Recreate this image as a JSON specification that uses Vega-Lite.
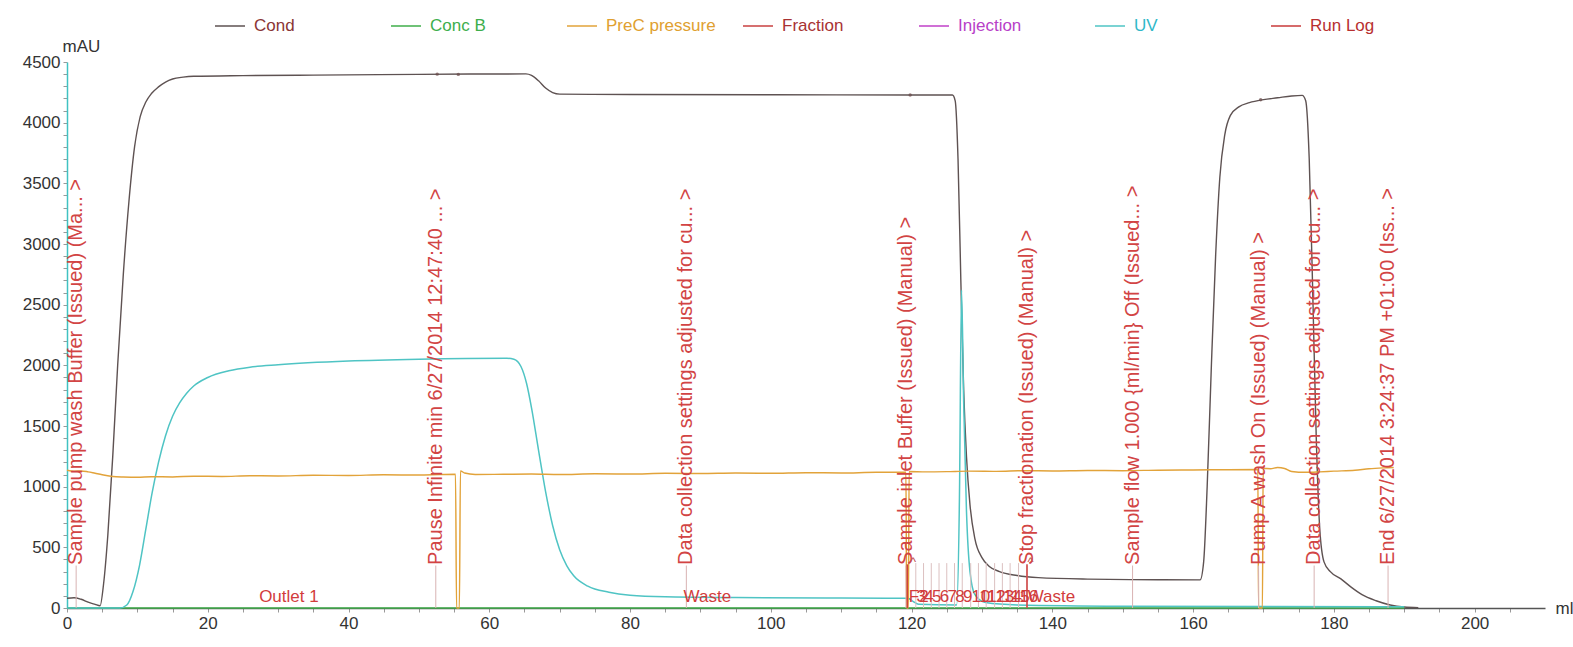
{
  "$schema": "https://vega.github.io/schema/vega-lite/v6.json",
  "width": 1478,
  "height": 546,
  "autosize": "none",
  "padding": {"left": 67, "top": 62, "right": 28, "bottom": 39},
  "background": "white",
  "config": {
    "view": {"stroke": null},
    "font": "Liberation Sans",
    "text": {"font": "Liberation Sans"}
  },
  "resolve": {"axis": {"x": "independent", "y": "independent"}},
  "datasets": {
    "curves": [
      {"series": "Cond", "ml": 0, "v": 80}, {"series": "Cond", "ml": 1, "v": 85}, {"series": "Cond", "ml": 2, "v": 72},
      {"series": "Cond", "ml": 3, "v": 48}, {"series": "Cond", "ml": 4, "v": 30}, {"series": "Cond", "ml": 4.7, "v": 18},
      {"series": "Cond", "ml": 5.2, "v": 200}, {"series": "Cond", "ml": 5.8, "v": 600}, {"series": "Cond", "ml": 6.5, "v": 1250},
      {"series": "Cond", "ml": 7.2, "v": 2000}, {"series": "Cond", "ml": 8, "v": 2750}, {"series": "Cond", "ml": 8.8, "v": 3350},
      {"series": "Cond", "ml": 9.6, "v": 3800}, {"series": "Cond", "ml": 10.4, "v": 4050}, {"series": "Cond", "ml": 11.2, "v": 4170},
      {"series": "Cond", "ml": 12, "v": 4240}, {"series": "Cond", "ml": 13, "v": 4295}, {"series": "Cond", "ml": 14, "v": 4335},
      {"series": "Cond", "ml": 15, "v": 4360}, {"series": "Cond", "ml": 16.5, "v": 4375}, {"series": "Cond", "ml": 18, "v": 4382},
      {"series": "Cond", "ml": 25, "v": 4388}, {"series": "Cond", "ml": 35, "v": 4392}, {"series": "Cond", "ml": 50, "v": 4398},
      {"series": "Cond", "ml": 65.2, "v": 4402}, {"series": "Cond", "ml": 66, "v": 4390}, {"series": "Cond", "ml": 67, "v": 4345},
      {"series": "Cond", "ml": 68, "v": 4285}, {"series": "Cond", "ml": 69, "v": 4248}, {"series": "Cond", "ml": 70, "v": 4235},
      {"series": "Cond", "ml": 80, "v": 4232}, {"series": "Cond", "ml": 100, "v": 4230}, {"series": "Cond", "ml": 120, "v": 4228},
      {"series": "Cond", "ml": 125.8, "v": 4228}, {"series": "Cond", "ml": 126.2, "v": 4180}, {"series": "Cond", "ml": 126.6, "v": 3700},
      {"series": "Cond", "ml": 127, "v": 2700}, {"series": "Cond", "ml": 127.4, "v": 1800}, {"series": "Cond", "ml": 127.8, "v": 1250},
      {"series": "Cond", "ml": 128.3, "v": 850}, {"series": "Cond", "ml": 129, "v": 570}, {"series": "Cond", "ml": 130, "v": 415},
      {"series": "Cond", "ml": 131, "v": 345}, {"series": "Cond", "ml": 132.5, "v": 300}, {"series": "Cond", "ml": 135, "v": 268},
      {"series": "Cond", "ml": 138, "v": 250}, {"series": "Cond", "ml": 145, "v": 238}, {"series": "Cond", "ml": 155, "v": 233},
      {"series": "Cond", "ml": 161, "v": 232}, {"series": "Cond", "ml": 161.5, "v": 380}, {"series": "Cond", "ml": 162, "v": 1000},
      {"series": "Cond", "ml": 162.6, "v": 2000}, {"series": "Cond", "ml": 163.2, "v": 2900}, {"series": "Cond", "ml": 163.8, "v": 3550},
      {"series": "Cond", "ml": 164.5, "v": 3900}, {"series": "Cond", "ml": 165.3, "v": 4060}, {"series": "Cond", "ml": 166.5, "v": 4130},
      {"series": "Cond", "ml": 168, "v": 4165}, {"series": "Cond", "ml": 170, "v": 4190}, {"series": "Cond", "ml": 172, "v": 4205},
      {"series": "Cond", "ml": 174, "v": 4220}, {"series": "Cond", "ml": 175.5, "v": 4225}, {"series": "Cond", "ml": 176, "v": 4180},
      {"series": "Cond", "ml": 176.5, "v": 3700}, {"series": "Cond", "ml": 177, "v": 2600}, {"series": "Cond", "ml": 177.5, "v": 1400},
      {"series": "Cond", "ml": 178, "v": 650}, {"series": "Cond", "ml": 178.6, "v": 380}, {"series": "Cond", "ml": 179.5, "v": 300},
      {"series": "Cond", "ml": 181, "v": 240}, {"series": "Cond", "ml": 182.5, "v": 170}, {"series": "Cond", "ml": 184, "v": 110},
      {"series": "Cond", "ml": 186, "v": 60}, {"series": "Cond", "ml": 188, "v": 25}, {"series": "Cond", "ml": 190, "v": 8},
      {"series": "Cond", "ml": 192, "v": 3},

      {"series": "Conc B", "ml": 0, "v": 0}, {"series": "Conc B", "ml": 190, "v": 0},

      {"series": "UV", "ml": 0, "v": 0}, {"series": "UV", "ml": 7.5, "v": 0}, {"series": "UV", "ml": 8.5, "v": 25},
      {"series": "UV", "ml": 9.4, "v": 140}, {"series": "UV", "ml": 10.3, "v": 350}, {"series": "UV", "ml": 11.2, "v": 650},
      {"series": "UV", "ml": 12.1, "v": 950}, {"series": "UV", "ml": 13, "v": 1200}, {"series": "UV", "ml": 14, "v": 1420},
      {"series": "UV", "ml": 15, "v": 1580}, {"series": "UV", "ml": 16, "v": 1690}, {"series": "UV", "ml": 17, "v": 1770},
      {"series": "UV", "ml": 18, "v": 1830}, {"series": "UV", "ml": 20, "v": 1900}, {"series": "UV", "ml": 23, "v": 1955},
      {"series": "UV", "ml": 26, "v": 1985}, {"series": "UV", "ml": 30, "v": 2005}, {"series": "UV", "ml": 40, "v": 2035},
      {"series": "UV", "ml": 50, "v": 2050}, {"series": "UV", "ml": 62.5, "v": 2058}, {"series": "UV", "ml": 63.5, "v": 2050},
      {"series": "UV", "ml": 64.5, "v": 1990}, {"series": "UV", "ml": 65.3, "v": 1850}, {"series": "UV", "ml": 66, "v": 1650},
      {"series": "UV", "ml": 67, "v": 1300}, {"series": "UV", "ml": 68, "v": 960}, {"series": "UV", "ml": 69, "v": 680},
      {"series": "UV", "ml": 70, "v": 480}, {"series": "UV", "ml": 71, "v": 350}, {"series": "UV", "ml": 72, "v": 265},
      {"series": "UV", "ml": 74, "v": 180}, {"series": "UV", "ml": 77, "v": 130}, {"series": "UV", "ml": 80, "v": 105},
      {"series": "UV", "ml": 85, "v": 92}, {"series": "UV", "ml": 95, "v": 86}, {"series": "UV", "ml": 110, "v": 82},
      {"series": "UV", "ml": 119.5, "v": 80}, {"series": "UV", "ml": 120.2, "v": 55}, {"series": "UV", "ml": 121, "v": 30},
      {"series": "UV", "ml": 126.4, "v": 25}, {"series": "UV", "ml": 126.8, "v": 900}, {"series": "UV", "ml": 127.1, "v": 2620},
      {"series": "UV", "ml": 127.4, "v": 1700}, {"series": "UV", "ml": 127.8, "v": 800}, {"series": "UV", "ml": 128.3, "v": 300},
      {"series": "UV", "ml": 129, "v": 110}, {"series": "UV", "ml": 130.5, "v": 45}, {"series": "UV", "ml": 135, "v": 25},
      {"series": "UV", "ml": 150, "v": 15}, {"series": "UV", "ml": 190, "v": 10},

      {"series": "PreC pressure", "ml": 0, "v": 1135}, {"series": "PreC pressure", "ml": 1, "v": 1128},
      {"series": "PreC pressure", "ml": 2, "v": 1130}, {"series": "PreC pressure", "ml": 3, "v": 1122},
      {"series": "PreC pressure", "ml": 4, "v": 1110}, {"series": "PreC pressure", "ml": 5, "v": 1098},
      {"series": "PreC pressure", "ml": 6, "v": 1088}, {"series": "PreC pressure", "ml": 7, "v": 1082},
      {"series": "PreC pressure", "ml": 8, "v": 1080}, {"series": "PreC pressure", "ml": 10, "v": 1078},
      {"series": "PreC pressure", "ml": 12, "v": 1082}, {"series": "PreC pressure", "ml": 15, "v": 1080},
      {"series": "PreC pressure", "ml": 18, "v": 1086}, {"series": "PreC pressure", "ml": 22, "v": 1084},
      {"series": "PreC pressure", "ml": 26, "v": 1090}, {"series": "PreC pressure", "ml": 30, "v": 1088},
      {"series": "PreC pressure", "ml": 35, "v": 1094}, {"series": "PreC pressure", "ml": 40, "v": 1092},
      {"series": "PreC pressure", "ml": 45, "v": 1098}, {"series": "PreC pressure", "ml": 50, "v": 1096},
      {"series": "PreC pressure", "ml": 53, "v": 1100}, {"series": "PreC pressure", "ml": 55.2, "v": 1102},
      {"series": "PreC pressure", "ml": 55.35, "v": 0}, {"series": "PreC pressure", "ml": 55.75, "v": 0},
      {"series": "PreC pressure", "ml": 55.9, "v": 1130}, {"series": "PreC pressure", "ml": 56.5, "v": 1112},
      {"series": "PreC pressure", "ml": 58, "v": 1100}, {"series": "PreC pressure", "ml": 62, "v": 1102},
      {"series": "PreC pressure", "ml": 66, "v": 1104}, {"series": "PreC pressure", "ml": 70, "v": 1100},
      {"series": "PreC pressure", "ml": 75, "v": 1106}, {"series": "PreC pressure", "ml": 80, "v": 1104},
      {"series": "PreC pressure", "ml": 85, "v": 1110}, {"series": "PreC pressure", "ml": 90, "v": 1108},
      {"series": "PreC pressure", "ml": 95, "v": 1112}, {"series": "PreC pressure", "ml": 100, "v": 1110},
      {"series": "PreC pressure", "ml": 105, "v": 1115}, {"series": "PreC pressure", "ml": 110, "v": 1113},
      {"series": "PreC pressure", "ml": 115, "v": 1118}, {"series": "PreC pressure", "ml": 119.2, "v": 1118},
      {"series": "PreC pressure", "ml": 119.3, "v": 0}, {"series": "PreC pressure", "ml": 119.55, "v": 0},
      {"series": "PreC pressure", "ml": 119.65, "v": 1125}, {"series": "PreC pressure", "ml": 122, "v": 1122},
      {"series": "PreC pressure", "ml": 125, "v": 1124}, {"series": "PreC pressure", "ml": 128, "v": 1128},
      {"series": "PreC pressure", "ml": 132, "v": 1126}, {"series": "PreC pressure", "ml": 136, "v": 1132},
      {"series": "PreC pressure", "ml": 140, "v": 1130}, {"series": "PreC pressure", "ml": 145, "v": 1134},
      {"series": "PreC pressure", "ml": 150, "v": 1132}, {"series": "PreC pressure", "ml": 155, "v": 1136},
      {"series": "PreC pressure", "ml": 160, "v": 1138}, {"series": "PreC pressure", "ml": 165, "v": 1140},
      {"series": "PreC pressure", "ml": 169.2, "v": 1142}, {"series": "PreC pressure", "ml": 169.3, "v": 0},
      {"series": "PreC pressure", "ml": 169.85, "v": 0}, {"series": "PreC pressure", "ml": 169.95, "v": 1150},
      {"series": "PreC pressure", "ml": 171, "v": 1148}, {"series": "PreC pressure", "ml": 172, "v": 1158},
      {"series": "PreC pressure", "ml": 173, "v": 1150}, {"series": "PreC pressure", "ml": 174, "v": 1125},
      {"series": "PreC pressure", "ml": 176, "v": 1118}, {"series": "PreC pressure", "ml": 178, "v": 1122},
      {"series": "PreC pressure", "ml": 180, "v": 1128}, {"series": "PreC pressure", "ml": 183, "v": 1135},
      {"series": "PreC pressure", "ml": 185, "v": 1148}, {"series": "PreC pressure", "ml": 187, "v": 1155},
      {"series": "PreC pressure", "ml": 188.5, "v": 1158}
    ],
    "runlog": [
      {"ml": 1.3, "text": "Sample pump wash Buffer (Issued) (Ma... >"},
      {"ml": 52.4, "text": "Pause Infinite min 6/27/2014 12:47:40 ... >"},
      {"ml": 88.0, "text": "Data collection settings adjusted for cu... >"},
      {"ml": 119.2, "text": "Sample inlet Buffer (Issued) (Manual) >"},
      {"ml": 136.4, "text": "Stop fractionation (Issued) (Manual) >"},
      {"ml": 151.4, "text": "Sample flow 1.000 {ml/min} Off (Issued... >"},
      {"ml": 169.3, "text": "Pump A wash On (Issued) (Manual) >"},
      {"ml": 177.2, "text": "Data collection settings adjusted for cu... >"},
      {"ml": 187.7, "text": "End 6/27/2014 3:24:37 PM +01:00 (Iss... >"}
    ],
    "fractions": [
      {"ml": 27.3, "label": "Outlet 1"}, {"ml": 87.6, "label": "Waste"},
      {"ml": 119.6, "label": "F2"}, {"ml": 120.7, "label": "3"}, {"ml": 121.8, "label": "4"},
      {"ml": 122.9, "label": "5"}, {"ml": 124.0, "label": "6"}, {"ml": 125.1, "label": "7"},
      {"ml": 126.2, "label": "8"}, {"ml": 127.3, "label": "9"}, {"ml": 128.5, "label": "10"},
      {"ml": 129.6, "label": "11"}, {"ml": 130.7, "label": "12"}, {"ml": 131.9, "label": "13"},
      {"ml": 133.0, "label": "14"}, {"ml": 134.1, "label": "15"}, {"ml": 135.3, "label": "16"},
      {"ml": 136.5, "label": "Waste"}
    ],
    "fractionBounds": [
      {"ml": 120.6}, {"ml": 121.7}, {"ml": 122.8}, {"ml": 123.9}, {"ml": 125.0}, {"ml": 126.1}, {"ml": 127.2},
      {"ml": 128.4}, {"ml": 129.5}, {"ml": 130.6}, {"ml": 131.8}, {"ml": 132.9}, {"ml": 134.0}, {"ml": 135.2}
    ],
    "fractionStarts": [{"ml": 119.4}, {"ml": 136.4}],
    "condMarks": [
      {"ml": 52.6, "v": 4400}, {"ml": 55.6, "v": 4398}, {"ml": 119.8, "v": 4228}, {"ml": 169.6, "v": 4188}
    ],
    "carets": [{"ml": 120.2}, {"ml": 136.9}]
  },
  "layer": [
    {
      "data": {"name": "curves"},
      "mark": {"type": "line", "interpolate": "monotone"},
      "encoding": {
        "x": {
          "field": "ml", "type": "quantitative",
          "scale": {"domain": [0, 210], "nice": false, "zero": false},
          "axis": {
            "values": [0, 5, 10, 15, 20, 25, 30, 35, 40, 45, 50, 55, 60, 65, 70, 75, 80, 85, 90, 95, 100, 105, 110, 115, 120, 125, 130, 135, 140, 145, 150, 155, 160, 165, 170, 175, 180, 185, 190, 195, 200, 205],
            "labelExpr": "datum.value % 20 === 0 ? datum.label : ''",
            "labelOverlap": false, "labelFlush": false, "grid": false,
            "labelFontSize": 17, "labelColor": "#333", "labelPadding": 3,
            "domainColor": "#555", "domainWidth": 1.5,
            "tickColor": "#999", "tickSize": 4,
            "title": "ml", "titleFontSize": 17, "titleFontWeight": "normal", "titleColor": "#333",
            "titleX": 1488, "titleY": 0, "titleAlign": "left", "titleBaseline": "middle"
          }
        },
        "y": {
          "field": "v", "type": "quantitative",
          "scale": {"domain": [0, 4500], "nice": false},
          "axis": {
            "values": [0, 100, 200, 300, 400, 500, 600, 700, 800, 900, 1000, 1100, 1200, 1300, 1400, 1500, 1600, 1700, 1800, 1900, 2000, 2100, 2200, 2300, 2400, 2500, 2600, 2700, 2800, 2900, 3000, 3100, 3200, 3300, 3400, 3500, 3600, 3700, 3800, 3900, 4000, 4100, 4200, 4300, 4400, 4500],
            "labelExpr": "datum.value % 500 === 0 ? format(datum.value, 'd') : ''",
            "labelOverlap": false, "labelFlush": false, "grid": false,
            "labelFontSize": 17, "labelColor": "#333", "labelPadding": 3,
            "domainColor": "#40c2c2", "domainWidth": 1.5,
            "tickColor": "#999", "tickSize": 4,
            "title": "mAU", "titleFontSize": 17, "titleFontWeight": "normal", "titleColor": "#333",
            "titleAngle": 0, "titleX": 14, "titleY": -16, "titleAlign": "center", "titleBaseline": "middle"
          }
        },
        "color": {
          "field": "series", "type": "nominal",
          "scale": {
            "domain": ["Cond", "Conc B", "PreC pressure", "Fraction", "Injection", "UV", "Run Log"],
            "range": ["#5e5252", "#3fae4a", "#e2a33a", "#c84040", "#c040c8", "#4fc4c4", "#c83a3a"]
          },
          "legend": {
            "orient": "none", "legendX": 147, "legendY": -52,
            "direction": "horizontal", "columns": 7, "gridAlign": "all", "columnPadding": 24,
            "symbolType": "stroke", "symbolSize": 900, "symbolStrokeWidth": 1.5,
            "labelFontSize": 17, "labelOffset": 8, "title": null, "padding": 0,
            "encode": {
              "symbols": {"update": {"stroke": {"value": "#a8a8a8"}, "opacity": {"value": 1}, "strokeWidth": {"value": 1.5}}},
              "labels": {"update": {"fill": {"signal": "datum.label === 'Cond' ? '#8a3535' : datum.label === 'Conc B' ? '#3dae4c' : datum.label === 'PreC pressure' ? '#e0a030' : datum.label === 'Fraction' ? '#a83232' : datum.label === 'Injection' ? '#b83fc8' : datum.label === 'UV' ? '#2fb8c8' : '#b83030'"}}}
            }
          }
        },
        "strokeWidth": {
          "field": "series", "type": "nominal",
          "scale": {"domain": ["Cond", "Conc B", "PreC pressure", "UV"], "range": [1.4, 1.5, 2.2, 1.4]},
          "legend": null
        },
        "order": {"field": "ml", "type": "quantitative"}
      }
    },
    {
      "data": {"name": "runlog"},
      "mark": {"type": "rule", "color": "#d9b3b3", "strokeWidth": 1},
      "encoding": {
        "x": {"field": "ml", "type": "quantitative", "axis": null},
        "y": {"datum": 0, "axis": null},
        "y2": {"datum": 350}
      }
    },
    {
      "data": {"name": "fractionBounds"},
      "mark": {"type": "rule", "color": "#dcc0c0", "strokeWidth": 1},
      "encoding": {
        "x": {"field": "ml", "type": "quantitative", "axis": null},
        "y": {"datum": 0, "axis": null},
        "y2": {"datum": 370}
      }
    },
    {
      "data": {"name": "fractionStarts"},
      "mark": {"type": "rule", "color": "#d04040", "strokeWidth": 1.5},
      "encoding": {
        "x": {"field": "ml", "type": "quantitative", "axis": null},
        "y": {"datum": 0, "axis": null},
        "y2": {"datum": 360}
      }
    },
    {
      "data": {"name": "condMarks"},
      "mark": {"type": "point", "filled": true, "size": 12, "color": "#6a4a4a"},
      "encoding": {
        "x": {"field": "ml", "type": "quantitative", "axis": null},
        "y": {"field": "v", "type": "quantitative", "axis": null}
      }
    },
    {
      "data": {"name": "runlog"},
      "mark": {"type": "text", "angle": -90, "align": "left", "baseline": "middle", "fontSize": 20, "color": "#d24444"},
      "encoding": {
        "x": {"field": "ml", "type": "quantitative", "axis": null},
        "y": {"datum": 355, "axis": null},
        "text": {"field": "text"}
      }
    },
    {
      "data": {"name": "fractions"},
      "mark": {"type": "text", "align": "left", "baseline": "middle", "fontSize": 17, "color": "#d23c3c"},
      "encoding": {
        "x": {"field": "ml", "type": "quantitative", "axis": null},
        "y": {"datum": 90, "axis": null},
        "text": {"field": "label"}
      }
    },
    {
      "data": {"name": "carets"},
      "mark": {"type": "text", "align": "center", "baseline": "middle", "fontSize": 13, "color": "#c05050", "text": "^"},
      "encoding": {
        "x": {"field": "ml", "type": "quantitative", "axis": null},
        "y": {"datum": 380, "axis": null}
      }
    }
  ]
}
